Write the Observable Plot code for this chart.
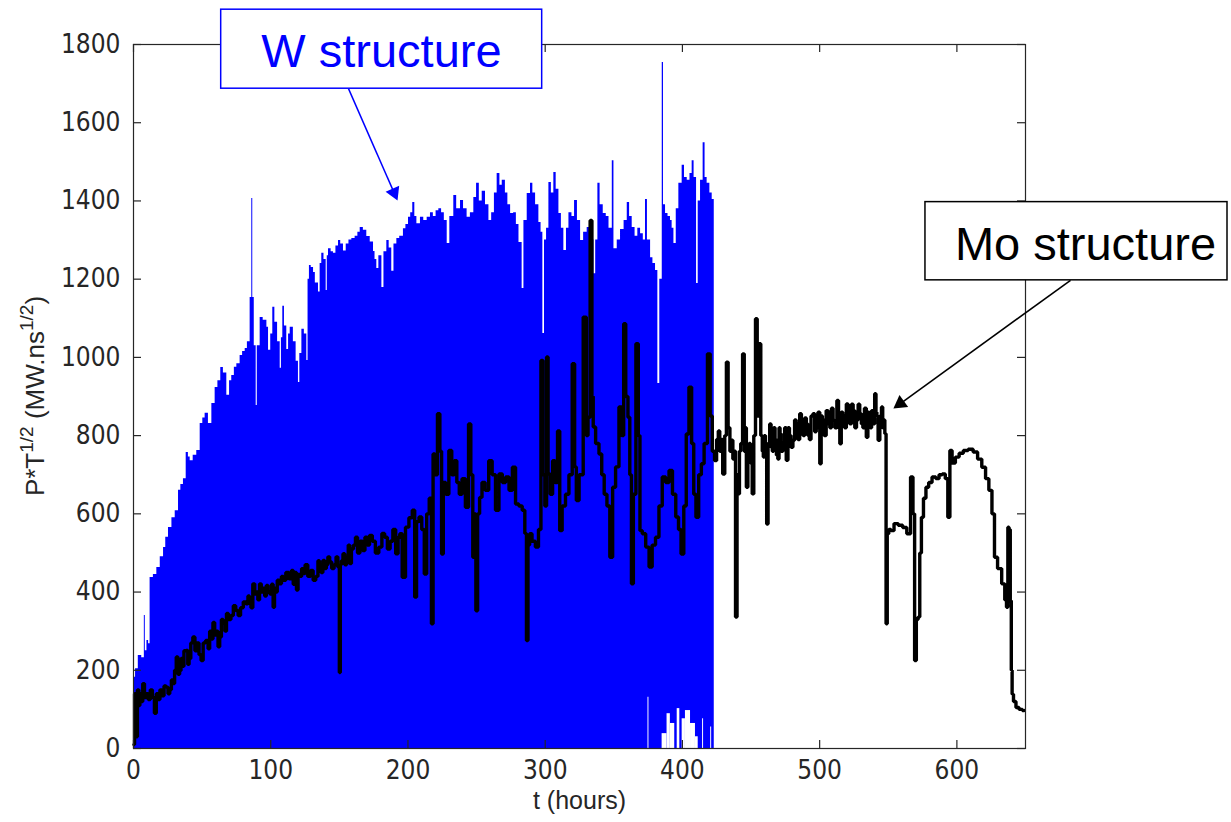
<!DOCTYPE html>
<html>
<head>
<meta charset="utf-8">
<script src="https://cdn.jsdelivr.net/npm/d3@7"></script>
<script src="https://cdn.jsdelivr.net/npm/@observablehq/plot@0.6"></script>
<style>
  html, body { margin: 0; padding: 0; background: #fff; }
  svg { display: block; }
</style>
</head>
<body>
<div id="chart"></div>
<script>
// ---------- data ----------
const xTicks = [0, 100, 200, 300, 400, 500, 600];
const yTicks = [0, 200, 400, 600, 800, 1000, 1200, 1400, 1600, 1800];
const seriesLabels = ["W structure", "Mo structure"];
const xLabel = "t (hours)";

// W structure: upper envelope of the dense blue trace [t (hours), P*T^1/2]
const wStructure = [
  [0,182],[1.5,204],[3.5,238],[6,232],[7.9,340],[8.6,250],[9.8,276],[11,268],[12.1,437],[14.5,445],
  [17,463],[19.5,490],[21.9,514],[23.5,540],[25.5,565],[28,590],[30.4,608],[32.8,660],[34.5,675],[36.4,690],
  [38.4,757],[40,745],[41.3,736],[43.5,750],[46.1,762],[48.6,831],[50.5,845],[52.2,857],[54.6,831],[57.1,882],
  [59.5,923],[61.5,940],[63.6,974],[65.5,960],[68,903],[70,940],[71.6,954],[73.5,975],[75.3,984],[77.7,1005],
  [79.5,1015],[81.4,1023],[83,1040],[85,1153],[86.2,1406],[86.9,1153],[88,1030],[89.4,877],[90.2,1030],[92.3,1102],
  [94.5,1095],[97.2,1077],[98.4,1018],[100,1060],[101.5,1128],[103,1090],[105,1040],[106.9,972],[107.8,1050],[108.8,1131],
  [110,1080],[111.7,1020],[113,1060],[114.2,1077],[116.5,1040],[118.5,990],[120.2,936],[121.2,1010],[122.7,1072],[124.5,1060],
  [126.3,992],[127.2,1200],[128.2,1235],[129.5,1230],[131.2,1217],[132.5,1190],[134.8,1167],[136,1240],[137.2,1266],[138.8,1250],
  [140.4,1171],[141.2,1260],[142.1,1278],[144,1270],[145.7,1266],[147.5,1285],[149.4,1299],[151,1290],[153,1272],[155,1290],
  [157,1300],[159.1,1304],[161.5,1310],[163.5,1320],[165.2,1332],[167.5,1325],[170,1309],[172.5,1295],[174.9,1271],[176,1250],
  [177.3,1227],[178.8,1260],[181,1179],[182.5,1270],[184.6,1299],[186.3,1280],[188.2,1220],[189.8,1290],[191.9,1304],[194,1310],
  [196.7,1329],[198.5,1340],[200.4,1358],[202,1370],[203.5,1396],[205,1360],[206.5,1342],[209.1,1358],[211.5,1350],[214,1358],
  [216.4,1370],[218.5,1360],[220.5,1375],[222.5,1380],[224.5,1370],[226.5,1350],[228.6,1291],[230.5,1360],[233.4,1414],[235.5,1380],
  [238.3,1401],[240.5,1380],[243.1,1358],[245.5,1370],[248,1409],[250,1445],[252,1400],[254.1,1425],[256.5,1390],[259,1350],
  [261,1370],[263,1420],[265,1470],[267,1440],[268.7,1453],[271,1420],[272.8,1390],[274.8,1368],[277,1370],[279,1340],
  [280.9,1294],[283.2,1176],[284.5,1350],[286.9,1419],[289.3,1445],[291,1420],[293,1390],[295.4,1345],[297,1320],[298.3,1061],
  [299.5,1300],[301,1330],[302.7,1447],[304.5,1420],[306.3,1473],[308,1430],[310,1368],[311.8,1330],[313.6,1273],[315.5,1330],
  [317.3,1370],[319.5,1360],[321.4,1401],[323.5,1350],[325.8,1299],[328,1320],[330.6,1332],[333,1300],[335.5,1214],[336.8,1300],
  [338.4,1445],[340,1390],[342.3,1368],[344.5,1360],[346.5,1330],[348.9,1503],[350.1,1278],[352.5,1300],[354.9,1327],[357.5,1350],
  [359.8,1396],[361.5,1360],[363.4,1332],[365.5,1310],[367.5,1330],[369.5,1316],[371.5,1300],[373.1,1404],[374.5,1300],[376.8,1255],
  [378.5,1240],[380.4,1222],[382.1,933],[383.5,1200],[385.3,1754],[386.2,1390],[387.7,1368],[389.5,1360],[391.3,1350],[392.5,1330],
  [393.8,1291],[395.5,1380],[397.4,1445],[399.8,1491],[401.5,1460],[403.5,1453],[405.5,1470],[407.1,1503],[408.5,1460],[410.3,1189],
  [411.5,1400],[413.2,1453],[415.1,1549],[416.5,1460],[418,1445],[420,1420],[421.7,1404],[423.2,1404]
];

// white gaps at the bottom of the W trace [t1, t2, height]
const wHoles = [
  [374.9,375.6,131],[385.2,388.8,38],[388.8,391.2,89],[391.2,394.4,64],[396.2,398.1,102],
  [399.8,402.2,76],[402.2,405.9,97],[405.9,409.5,64],[409.5,411.5,30],[414.7,415.4,76],[420.6,421.3,55]
];

// Mo structure trace [t (hours), P*T^1/2]
const moStructure = [
  [0.3,10],[1.2,140],[2.2,30],[3.5,150],[4.3,110],[5,140],[6,120],[7.5,166],[8.5,130],[10,140],
  [11.5,125],[13,150],[14.5,130],[16,90],[17.2,140],[18.5,125],[20,150],[21.5,135],[23,160],[24.5,157],
  [25.8,140],[27,150],[28.2,175],[29.4,166],[30.5,200],[31.8,234],[33,190],[34.2,199],[35,230],[36,210],
  [37.5,250],[39.1,251],[40,215],[41,230],[42.5,270],[44,285],[45.5,250],[47,270],[48.5,240],[50,225],
  [51.5,270],[53.7,276],[55,255],[56,300],[57.3,280],[58.5,322],[59.8,290],[61,300],[62.2,260],[63.4,285],
  [64.7,330],[66,320],[67.2,300],[68.3,345],[70,330],[72,340],[73.5,365],[75.5,353],[77,340],[79,360],
  [81,375],[82.8,370],[84,390],[85,380],[86.2,360],[87.7,421],[89,395],[90,400],[91.2,380],[92.5,421],
  [93.7,400],[95,410],[96.2,390],[97.4,417],[98.7,400],[100,395],[101.2,420],[102.3,361],[103.2,410],[104,400],
  [105.5,430],[107.1,421],[108.5,440],[110,430],[112,450],[114.4,434],[115.8,455],[117,420],[118.2,450],[119.3,405],
  [120.5,445],[122,440],[123,460],[124.1,447],[126,470],[128,440],[130,455],[131.8,430],[133.8,440],[135,480],
  [136,470],[137.3,450],[138.7,481],[140,460],[141,470],[142.3,490],[143.6,477],[145.3,460],[147,470],[148.2,490],
  [149.6,464],[150.4,194],[151,470],[152,480],[153.3,498],[154.6,470],[156,490],[157,520],[158.1,473],[159.5,510],
  [161,520],[162.5,540],[164,500],[166,530],[167.8,506],[169.5,540],[171,520],[173,545],[175,530],[177.5,500],
  [180,515],[182,550],[184,540],[186,510],[188,530],[190,560],[192.1,498],[193.5,540],[194.6,549],
  [197,438],[199.4,566],[202,590],[204.3,609],[205.5,387],[207,580],[209.1,592],[211,560],
  [212.8,446],[214.5,600],[216.5,640],[217.7,319],[218.9,753],[220.5,700],[222.5,856],[224,760],[225,497],[226.5,680],
  [228.6,650],[231,762],[232.8,700],[234.7,736],[236.5,680],[238.3,650],[240.5,690],[243.2,617],[245.1,830],[246.5,700],
  [248,489],[249,600],[250,352],[251.5,600],[252.9,642],[255,680],[257.5,660],[260.2,736],[262.5,700],[265.1,609],
  [267.5,702],[270,680],[272.3,694],[275,660],[277.2,719],[279.6,625],[282,620],[284.5,609],[285.8,550],[286.9,276],
  [288,520],[289.3,549],[291.5,530],[294.2,515],[296,560],[297.8,992],[299,700],[300.5,620],[301.5,1001],[302.7,702],
  [304.5,650],[306.3,736],[308,680],[310,812],[311.2,557],[313.5,620],[316.1,650],[318.5,700],[320.9,984],[322,720],
  [323.4,634],[326,700],[329.4,1103],[330.5,800],[331.9,847],[333.6,1350],[334.5,900],[335.5,822],[338,780],[340.4,753],
  [342,700],[344,650],[346,620],[348.2,489],[350.1,668],[352.5,720],[355,873],[356.5,800],[357.9,1086],[359.5,900],
  [361.1,847],[362.2,700],[363.5,421],[365,650],[367.2,1035],[368.5,800],[369.6,557],[372,549],[374.5,515],[376.9,464],
  [379,520],[381.8,540],[384,620],[386.6,694],[389,680],[391.5,711],[394,650],[396.3,592],[398,560],[400,497],
  [402,620],[403.6,804],[405.9,924],[407.5,780],[409,650],[410.7,591],[413,700],[414.6,728],[417,780],[419.5,1009],
  [421,850],[422.5,760],[424.3,736],[425.5,790],[426.8,812],[427.6,760],[428.5,790],[430.2,702],[431.5,800],[432.6,988],
  [434,820],[435.2,760],[436.3,788],[437.2,740],[438,760],[439.4,336],[440.2,700],[441.1,651],[442,760],[443,780],
  [444.7,1009],[445.4,760],[446,820],[447.2,668],[448.2,760],[449,780],[450.2,730],[451.5,651],[452.5,800],[454,1099],
  [455,850],[456.4,1035],[457.8,800],[458.6,760],[459.3,745],[460,800],[461,780],[461.8,574],[463,780],[464.2,830],
  [465,770],[466,760],[467,820],[468,790],[469,750],[470,740],[470.8,820],[471.5,805],[472.5,760],[474,780],
  [475,820],[476.3,737],[477.5,820],[478.5,800],[479.8,770],[481.2,788],[482.3,840],[483.5,830],[484.8,790],[486.1,856],
  [487.3,810],[488.5,800],[489.7,845],[490.9,830],[492,800],[493,790],[494.4,850],[495.8,856],[497,810],[498,820],
  [499.5,860],[500.7,728],[501.5,850],[502.5,840],[504,800],[505.5,864],[506.8,830],[508,820],[509.2,870],[510.4,839],
  [511.8,820],[513.3,890],[514.2,840],[515.2,779],[516.3,860],[517.5,850],[518.8,820],[520.1,881],[521.3,840],[522.5,830],
  [523.8,880],[525,864],[526.2,820],[527.5,840],[528.6,880],[529.8,856],[531,830],[532,820],[533.3,870],[534.7,796],
  [535.6,860],[536.5,850],[537.4,820],[538.3,864],[539.5,830],[540.7,907],[541.4,860],[542,850],[543.2,788],[544.5,850],
  [545.6,873],[546.3,820],[547,840],[548,805],[548.8,319],[549.7,549],[551,560],[552.9,557],[555.5,575],[559,571],
  [562,565],[565,549],[567.5,694],[568.5,600],[569.9,225],[571,330],[572.4,336],[573.5,500],[574.8,591],[576.5,640],
  [578.4,668],[580.5,680],[583.3,694],[586,690],[588,700],[590.6,702],[592.5,690],[594.3,591],[595.5,762],[597.5,730],
  [600.3,745],[603,755],[606.4,762],[610,765],[613.7,758],[616.5,740],[619.8,719],[622,690],[624.6,660],[626.5,600],
  [628.3,489],[631,460],[634.3,421],[635.5,380],[636.8,361],[637.5,566],[638.5,560],[639.3,378],[640,200],[640.5,139],
  [642,120],[644.1,105],[646.5,100],[649,97]
];

// ---------- annotation placement (data units) ----------
const wNote  = {x1: 63.9, x2: 297.8, y1: 1687, y2: 1889, tx: 180.7, ty: 1742, ax1: 156.7, ay1: 1687, ax2: 189.9, ay2: 1421, rot: 156.4};
const moNote = {x1: 577.1, x2: 797.2, y1: 1197, y2: 1397, tx: 693.7, ty: 1248, ax1: 682.8, ay1: 1197, ax2: 558.8, ay2: 882, rot: 234.1};

const BLUE = "#0000ff";
const AXIS = "#262626";
const tickFont = "'Liberation Sans Narrow', 'Arial Narrow', 'DejaVu Sans Condensed', 'Liberation Sans', sans-serif";
const labelFont = "'Liberation Sans', Arial, Helvetica, sans-serif";

const W = 1231, H = 822, mL = 133, mR = 206, mT = 44, mB = 74;
const innerW = W - mL - mR, innerH = H - mT - mB;

function note(n, label, color) {
  return [
    Plot.link([n], {x1: "ax1", y1: "ay1", x2: "ax2", y2: "ay2", stroke: color, strokeWidth: 1.6}),
    Plot.dot([n], {x: "ax2", y: "ay2", symbol: "triangle", r: 5.5, fill: color, stroke: "none", rotate: n.rot}),
    Plot.rect([n], {x1: "x1", x2: "x2", y1: "y1", y2: "y2", fill: "white", stroke: color, strokeWidth: 1.5}),
    Plot.text([label], {x: n.tx, y: n.ty, text: d => d, fill: color, fontSize: 47, fontFamily: labelFont, lineAnchor: "bottom", textAnchor: "middle"})
  ];
}

const chart = Plot.plot({
  width: W, height: H,
  marginLeft: mL, marginRight: mR, marginTop: mT, marginBottom: mB,
  x: {domain: [0, 650], ticks: xTicks, label: null},
  y: {domain: [0, 1800], ticks: yTicks, label: null},
  style: {background: "white", overflow: "visible", color: AXIS},
  marks: [
    Plot.areaY(wStructure, {x: d => d[0], y: d => d[1], curve: "step-after", fill: BLUE}),
    Plot.rect(wHoles, {x1: d => d[0], x2: d => d[1], y1: d => 0, y2: d => d[2], fill: "white"}),
    Plot.line(moStructure, {x: d => d[0], y: d => d[1], curve: "step", stroke: "black", strokeWidth: 3.4, strokeLinejoin: "miter"}),
    Plot.frame({stroke: AXIS, strokeWidth: 1.2}),
    Plot.tickY(yTicks, {y: d => d, insetRight: innerW - 8, stroke: AXIS, strokeWidth: 1.2}),
    Plot.tickY(yTicks, {y: d => d, insetLeft: innerW - 8, stroke: AXIS, strokeWidth: 1.2}),
    Plot.tickX(xTicks, {x: d => d, insetTop: innerH - 8, stroke: AXIS, strokeWidth: 1.2}),
    Plot.tickX(xTicks, {x: d => d, insetBottom: innerH - 8, stroke: AXIS, strokeWidth: 1.2}),
    Plot.axisX({ticks: xTicks, tickFormat: d => String(d), tickSize: 0, tickPadding: 12, fontSize: 26, fontFamily: tickFont, fill: AXIS, label: null}),
    Plot.axisY({ticks: yTicks, tickFormat: d => String(d), tickSize: 0, tickPadding: 13, fontSize: 26, fontFamily: tickFont, fill: AXIS, label: null}),
    Plot.text([xLabel], {frameAnchor: "bottom", dy: 60, text: d => d, fontSize: 25, fontFamily: labelFont, fill: AXIS}),
    ...note(wNote, seriesLabels[0], BLUE),
    ...note(moNote, seriesLabels[1], "black")
  ]
});

// y-axis title with superscripts (real text)
const lab = d3.select(chart).append("text")
  .attr("transform", `translate(44,${mT + innerH / 2}) rotate(-90)`)
  .attr("text-anchor", "middle")
  .attr("font-family", labelFont)
  .attr("font-size", 26)
  .attr("fill", AXIS);
lab.append("tspan").text("P*T");
lab.append("tspan").attr("font-size", 19).attr("dy", -11).text("1/2");
lab.append("tspan").attr("dy", 11).text(" (MW.ns");
lab.append("tspan").attr("font-size", 19).attr("dy", -11).text("1/2");
lab.append("tspan").attr("dy", 11).text(")");

document.getElementById("chart").appendChild(chart);
</script>
</body>
</html>
